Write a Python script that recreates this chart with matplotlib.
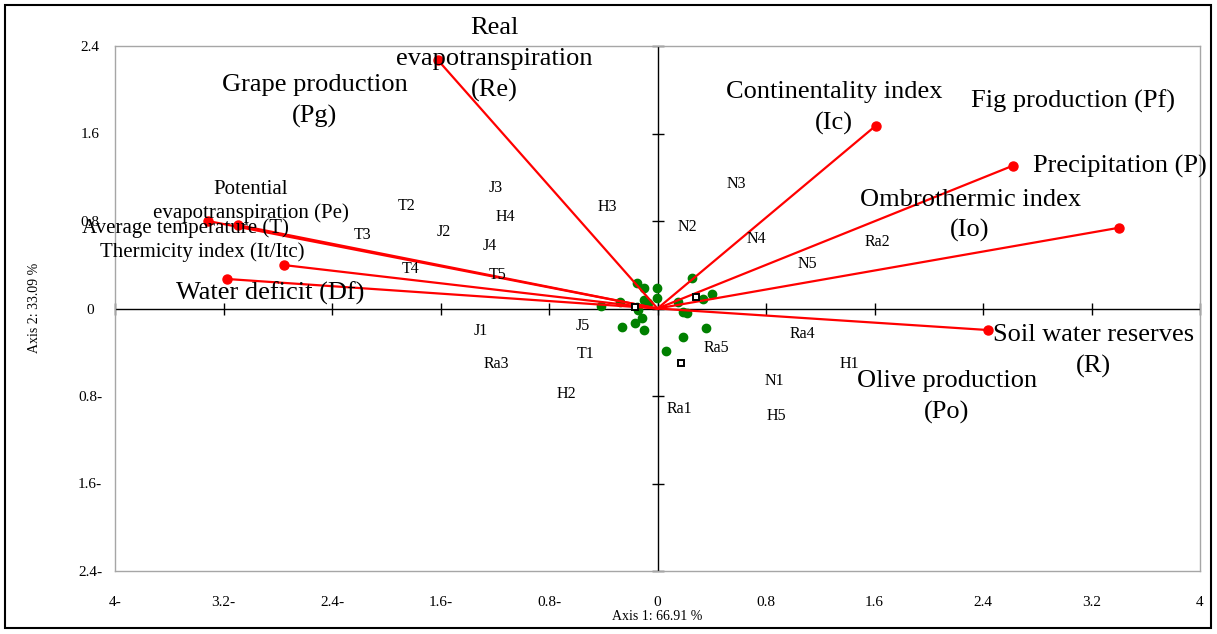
import matplotlib
matplotlib.use("Agg")
import matplotlib.pyplot as plt
from matplotlib.patches import Rectangle

plt.rcParams['font.family'] = ['Liberation Serif', 'DejaVu Serif']

# ---- data ----
var_codes = ["Re", "Ic", "P", "Io", "R", "Pe", "T", "It", "Df"]
var_x = [-1.619, 1.609, 2.619, 3.406, 2.438, -3.315, -3.094, -2.754, -3.175]
var_y = [2.271, 1.671, 1.305, 0.739, -0.197, 0.800, 0.763, 0.397, 0.270]

sup_codes = ["Pg", "Pf", "Po"]
sup_x = [-0.166, 0.284, 0.176]
sup_y = [0.014, 0.105, -0.495]

pt_x = [-0.149, -0.100, -0.006, -0.006, -0.096, -0.068, -0.273, -0.419, -0.149,
        -0.144, -0.114, -0.166, -0.260, -0.097, 0.256, 0.400, 0.338, 0.153,
        0.190, 0.214, 0.356, 0.190, 0.059]
pt_y = [0.230, 0.185, 0.185, 0.096, 0.080, 0.048, 0.059, 0.026, 0.016,
        -0.014, -0.090, -0.130, -0.169, -0.192, 0.276, 0.133, 0.085, 0.062,
        -0.035, -0.044, -0.176, -0.263, -0.387]

obs_names = ["T2", "J3", "H3", "H4", "J2", "T3", "J4", "T4", "T5", "J1", "J5", "T1",
             "Ra3", "H2", "N3", "N2", "N4", "N5", "Ra2", "Ra4", "Ra5", "H1", "N1",
             "Ra1", "H5"]
obs_x = [-1.847, -1.191, -0.372, -1.125, -1.574, -2.172, -1.235, -1.818, -1.176,
         -1.302, -0.549, -0.527, -1.191, -0.675, 0.579, 0.218, 0.726, 1.102,
         1.619, 1.066, 0.431, 1.412, 0.859, 0.159, 0.874]
obs_y = [0.937, 1.101, 0.928, 0.836, 0.699, 0.672, 0.571, 0.361, 0.306,
         -0.206, -0.160, -0.416, -0.507, -0.782, 1.138, 0.745, 0.635, 0.407,
         0.608, -0.233, -0.361, -0.507, -0.663, -0.919, -0.983]

tick_vals = [-4, -3.2, -2.4, -1.6, -0.8, 0, 0.8, 1.6, 2.4, 3.2, 4]
tick_labels = ["4-", "3.2-", "2.4-", "1.6-", "0.8-", "0", "0.8", "1.6", "2.4", "3.2", "4"]
ytick_vals = [-2.4, -1.6, -0.8, 0, 0.8, 1.6, 2.4]
ytick_labels = ["2.4-", "1.6-", "0.8-", "0", "0.8", "1.6", "2.4"]

xlabel = "Axis 1: 66.91 %"
ylabel = "Axis 2: 33.09 %"

# ---- variable label text (layout: label centre, font size, line spacing) ----
big_labels = {
    "Re": ("Real\nevapotranspiration\n(Re)", -1.202, 2.275, 19, 1.5),
    "Pg": ("Grape production\n(Pg)", -2.526, 1.894, 19, 1.5),
    "Ic": ("Continentality index\n(Ic)", 1.302, 1.832, 19, 1.5),
    "Pf": ("Fig production (Pf)", 3.064, 1.897, 19, 1.5),
    "P": ("Precipitation (P)", 3.411, 1.302, 19, 1.5),
    "Io": ("Ombrothermic index\n(Io)", 2.305, 0.850, 19, 1.5),
    "R": ("Soil water reserves\n(R)", 3.212, -0.390, 19, 1.5),
    "Po": ("Olive production\n(Po)", 2.135, -0.812, 19, 1.5),
    "Df": ("Water deficit (Df)", -2.858, 0.142, 19, 1.5),
    "Pe": ("Potential\nevapotranspiration (Pe)", -2.997, 0.980, 15, 1.3),
    "T": ("Average temperature (T)", -3.477, 0.736, 15, 1.3),
    "It": ("Thermicity index (It/Itc)", -3.359, 0.516, 15, 1.3),
}

fig = plt.figure(figsize=(12.17, 6.34), dpi=100)
ax = fig.add_axes([115 / 1217, 63 / 634, 1085 / 1217, 525 / 634])
ax.set_xlim(-4, 4)
ax.set_ylim(-2.4, 2.4)

for s in ax.spines.values():
    s.set_color("#a6a6a6")
    s.set_linewidth(1.0)

# zero axes with tick crosses
ax.axhline(0, color="black", lw=1.0, zorder=1)
ax.axvline(0, color="black", lw=1.0, zorder=1)
ax.plot(tick_vals, [0] * len(tick_vals), ls="none", marker="|", ms=9,
        mew=1.0, color="black", zorder=1, clip_on=False)
ax.plot([0] * len(ytick_vals), ytick_vals, ls="none", marker="_", ms=9,
        mew=1.0, color="black", zorder=1, clip_on=False)

# vectors
for x, y in zip(var_x, var_y):
    ax.plot([0, x], [0, y], color="#ff0000", lw=1.6, zorder=3, clip_on=False)
ax.plot(var_x, var_y, ls="none", marker="o", ms=6.5, color="#ff0000",
        zorder=4, clip_on=False)

# observation points
ax.plot(pt_x, pt_y, ls="none", marker="o", ms=6, color="#008000", zorder=2)

# supplementary variables (hollow squares)
ax.plot(sup_x, sup_y, ls="none", marker="s", ms=4.5, mfc="white", mec="black",
        mew=1.4, zorder=5)

# observation labels
for n, x, y in zip(obs_names, obs_x, obs_y):
    ax.text(x, y, n, ha="center", va="center", fontsize=11.5, zorder=6)

# variable labels
for code, (txt, x, y, fs, ls) in big_labels.items():
    ax.text(x, y, txt, ha="center", va="center", fontsize=fs, zorder=6,
            linespacing=ls, clip_on=False)

ax.set_xticks(tick_vals)
ax.set_xticklabels(tick_labels, fontsize=11)
ax.set_yticks(ytick_vals)
ax.set_yticklabels(ytick_labels, fontsize=11, ha="center")
ax.tick_params(axis="x", length=0, pad=18)
ax.tick_params(axis="y", length=0, pad=18)

fig.text(657 / 1217, 1 - 616 / 634, xlabel, ha="center", va="center",
         fontsize=10)
fig.text(35 / 1217, 1 - 308 / 634, ylabel, rotation=90, ha="center",
         va="center", fontsize=10)

# outer frame
fig.patches.append(Rectangle((5 / 1217, 6 / 634), 1206 / 1217, 623 / 634,
                             transform=fig.transFigure, fill=False,
                             edgecolor="black", lw=1.5))

fig.savefig("out.png", dpi=100)
